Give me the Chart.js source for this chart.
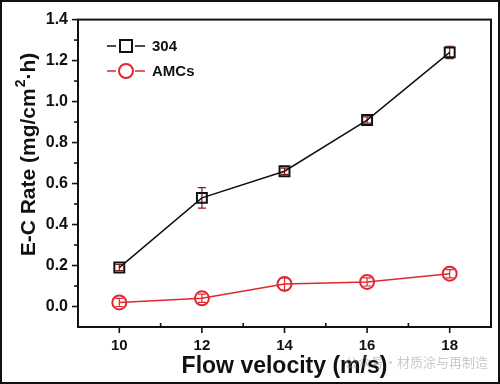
<!DOCTYPE html>
<html>
<head>
<meta charset="utf-8">
<script src="https://cdn.jsdelivr.net/npm/chart.js@4"></script>
<style>
  html, body { margin: 0; padding: 0; background: #fff; }
  #wrap { position: relative; width: 500px; height: 384px; }
  #frame { position: absolute; left: 0; top: 0; width: 496px; height: 380px; border: 2px solid #111; pointer-events: none; }
</style>
</head>
<body>
<div id="wrap">
  <canvas id="chart" width="500" height="384"></canvas>
  <div id="frame"></div>
</div>
<script>
var velocity = [10, 12, 14, 16, 18];
var rate304 = [0.19, 0.53, 0.66, 0.91, 1.24];
var err304 = [0.015, 0.05, 0.015, 0.015, 0.03];
var rateAMCs = [0.02, 0.04, 0.11, 0.12, 0.16];
var errAMCs = [0.02, 0.02, 0.03, 0.02, 0.02];
var xTicks = [10, 12, 14, 16, 18];
var yTicks = [0, 0.2, 0.4, 0.6, 0.8, 1.0, 1.2, 1.4];

var RED = "#e0282e";
var FONT = "'Liberation Sans', Arial, sans-serif";

function points(xs, ys) {
  return xs.map(function (x, i) { return { x: x, y: ys[i] }; });
}

var extras = {
  id: "extras",
  beforeDatasetsDraw: function (chart) {
    var ctx = chart.ctx;
    var xs = chart.scales.x;
    var ys = chart.scales.y;
    ctx.save();
    // error bars
    [[rate304, err304, "#8a1a1a"], [rateAMCs, errAMCs, RED]].forEach(function (s) {
      ctx.strokeStyle = s[2];
      ctx.lineWidth = 1.2;
      velocity.forEach(function (v, i) {
        var px = xs.getPixelForValue(v);
        var top = ys.getPixelForValue(s[0][i] + s[1][i]);
        var bot = ys.getPixelForValue(s[0][i] - s[1][i]);
        ctx.beginPath();
        ctx.moveTo(px, top); ctx.lineTo(px, bot);
        ctx.moveTo(px - 4, top); ctx.lineTo(px + 4, top);
        ctx.moveTo(px - 4, bot); ctx.lineTo(px + 4, bot);
        ctx.stroke();
      });
    });
    ctx.restore();
  },
  afterDraw: function (chart) {
    var ctx = chart.ctx;
    var xs = chart.scales.x;
    var ys = chart.scales.y;
    var a = chart.chartArea;
    ctx.save();
    // frame
    ctx.strokeStyle = "#111";
    ctx.lineWidth = 2;
    ctx.strokeRect(a.left, a.top, a.right - a.left, a.bottom - a.top);
    // y ticks (major and minor, outside)
    ctx.lineWidth = 1.6;
    for (var k = 0; k <= 14; k++) {
      var py = ys.getPixelForValue(k / 10);
      var len = k % 2 === 0 ? 6 : 4;
      ctx.beginPath();
      ctx.moveTo(a.left, py); ctx.lineTo(a.left - len, py);
      ctx.stroke();
    }
    // x ticks: major outside, minor inside
    for (var t = 10; t <= 18; t++) {
      var px = xs.getPixelForValue(t);
      ctx.beginPath();
      if (t % 2 === 0) {
        ctx.moveTo(px, a.bottom); ctx.lineTo(px, a.bottom + 6);
      } else {
        ctx.moveTo(px, a.bottom); ctx.lineTo(px, a.bottom - 4);
      }
      ctx.stroke();
    }
    // y axis title with superscript
    ctx.save();
    ctx.translate(29, 155);
    ctx.rotate(-Math.PI / 2);
    ctx.fillStyle = "#111";
    ctx.textBaseline = "middle";
    ctx.textAlign = "left";
    var big = "bold 21px " + FONT;
    var sup = "bold 14px " + FONT;
    var p1 = "E-C Rate (mg/cm", p2 = "2", p3 = "·h)";
    ctx.font = big;
    var w1 = ctx.measureText(p1).width, w3 = ctx.measureText(p3).width;
    ctx.font = sup;
    var w2 = ctx.measureText(p2).width;
    var x0 = -(w1 + w2 + w3) / 2;
    ctx.font = big;
    ctx.fillText(p1, x0, 0);
    ctx.font = sup;
    ctx.fillText(p2, x0 + w1 + 1, -8);
    ctx.font = big;
    ctx.fillText(p3, x0 + w1 + w2 + 1, 0);
    ctx.restore();
    // legend
    chart.data.datasets.forEach(function (ds, i) {
      var ly = 46 + i * 25;
      ctx.strokeStyle = ds.borderColor;
      ctx.lineWidth = 1.6;
      ctx.beginPath();
      ctx.moveTo(107, ly); ctx.lineTo(116, ly);
      ctx.moveTo(135, ly); ctx.lineTo(145, ly);
      ctx.stroke();
      ctx.lineWidth = 2;
      ctx.fillStyle = "#fff";
      if (ds.pointStyle === "rect") {
        ctx.fillRect(120, ly - 6, 12, 12);
        ctx.strokeRect(120, ly - 6, 12, 12);
      } else {
        ctx.beginPath();
        ctx.arc(126, ly, 7, 0, Math.PI * 2);
        ctx.fill();
        ctx.stroke();
      }
      ctx.fillStyle = "#111";
      ctx.font = "bold 15px " + FONT;
      ctx.textBaseline = "middle";
      ctx.textAlign = "left";
      ctx.fillText(ds.label, 152, ly + 1);
    });
    // watermark
    ctx.fillStyle = "rgba(150,150,150,0.5)";
    ctx.font = "13px 'Noto Sans CJK SC'";
    ctx.textAlign = "left";
    ctx.textBaseline = "middle";
    ctx.fillText("公众号·材质涂与再制造", 345, 362);
    ctx.restore();
  }
};

new Chart(document.getElementById("chart"), {
  type: "line",
  data: {
    datasets: [
      {
        label: "304",
        data: points(velocity, rate304),
        borderColor: "#111",
        borderWidth: 1.5,
        pointStyle: "rect",
        pointRadius: 7,
        pointBorderWidth: 2,
        pointBackgroundColor: "rgba(255,255,255,0)",
        pointBorderColor: "#111",
        tension: 0
      },
      {
        label: "AMCs",
        data: points(velocity, rateAMCs),
        borderColor: RED,
        borderWidth: 1.5,
        pointStyle: "circle",
        pointRadius: 7,
        pointBorderWidth: 2,
        pointBackgroundColor: "rgba(255,255,255,0)",
        pointBorderColor: RED,
        tension: 0
      }
    ]
  },
  options: {
    responsive: false,
    animation: false,
    layout: { padding: { left: 0, top: 19, right: 8, bottom: 0 } },
    plugins: {
      legend: { display: false },
      tooltip: { enabled: false }
    },
    scales: {
      x: {
        type: "linear",
        min: 9,
        max: 19,
        afterFit: function (s) { s.height = 57; },
        afterBuildTicks: function (s) { s.ticks = xTicks.map(function (v) { return { value: v }; }); },
        grid: { display: false, drawTicks: false },
        border: { display: false },
        ticks: {
          padding: 10,
          color: "#111",
          font: { family: FONT, size: 15, weight: "bold" }
        },
        title: {
          display: true,
          text: "Flow velocity (m/s)",
          color: "#111",
          padding: { top: 3 },
          font: { family: FONT, size: 23, weight: "bold" }
        }
      },
      y: {
        min: -0.1,
        max: 1.4,
        afterFit: function (s) { s.width = 78; },
        afterBuildTicks: function (s) { s.ticks = yTicks.map(function (v) { return { value: v }; }); },
        grid: { display: false, drawTicks: false },
        border: { display: false },
        ticks: {
          padding: 10,
          color: "#111",
          font: { family: FONT, size: 16, weight: "bold" },
          callback: function (v) { return v.toFixed(1); }
        }
      }
    }
  },
  plugins: [extras]
});
</script>
</body>
</html>
